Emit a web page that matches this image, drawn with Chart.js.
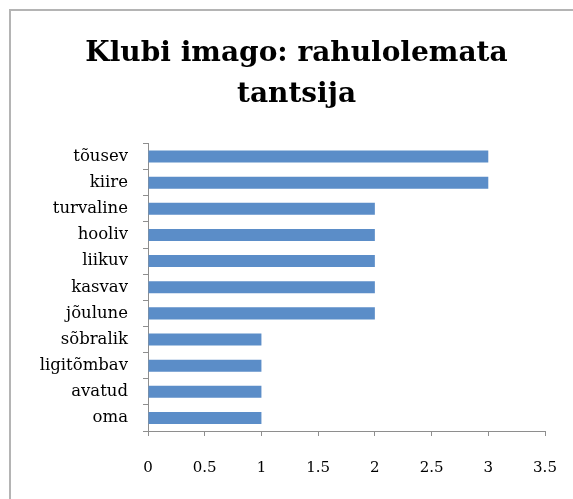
<!DOCTYPE html>
<html>
<head>
<meta charset="utf-8">
<script src="https://cdn.jsdelivr.net/npm/chart.js@4/dist/chart.umd.min.js"></script>
<style>
  html, body { margin: 0; padding: 0; background: #ffffff; overflow: hidden; }
  #frame { position: absolute; left: 9px; top: 9px; width: 640px; height: 560px; border: 2px solid #b4b4b4; box-sizing: border-box; }
  #wrap { position: absolute; left: 0; top: 0; width: 573px; height: 499px; }
</style>
</head>
<body>
<div id="frame"></div>
<div id="wrap"><canvas id="c" width="573" height="499"></canvas></div>
<script>
const titleLines = ['Klubi imago: rahulolemata', 'tantsija'];
const categories = ['tõusev', 'kiire', 'turvaline', 'hooliv', 'liikuv', 'kasvav', 'jõulune', 'sõbralik', 'ligitõmbav', 'avatud', 'oma'];
const values = [3, 3, 2, 2, 2, 2, 2, 1, 1, 1, 1];
const xTickLabels = ['0', '0.5', '1', '1.5', '2', '2.5', '3', '3.5'];

const serif = "'DejaVu Serif', 'Liberation Serif', serif";
const axisColor = '#8e8e8e';

new Chart(document.getElementById('c'), {
  type: 'bar',
  data: {
    labels: categories,
    datasets: [{
      data: values,
      backgroundColor: '#5b8dc8',
      borderWidth: 0,
      categoryPercentage: 1,
      barPercentage: 0.46
    }]
  },
  options: {
    indexAxis: 'y',
    responsive: false,
    animation: false,
    layout: { padding: { left: 20, right: 0, top: 0, bottom: 0 } },
    plugins: {
      legend: { display: false },
      tooltip: { enabled: false },
      title: {
        display: true,
        text: titleLines,
        color: '#000000',
        font: { family: serif, size: 28, weight: 'bold', lineHeight: 1.464 },
        padding: { top: 33.5, bottom: 28 }
      }
    },
    scales: {
      x: {
        min: 0, max: 3.5,
        ticks: {
          stepSize: 0.5,
          color: '#000000',
          font: { family: serif, size: 15 },
          padding: 23,
          maxRotation: 0,
          callback: (v, i) => xTickLabels[i]
        },
        grid: { drawOnChartArea: false, drawTicks: true, tickLength: 5, color: axisColor },
        border: { color: axisColor, width: 1 },
        afterFit: (s) => { s.height = 68; s.paddingLeft = 0; s.paddingRight = 0; }
      },
      y: {
        ticks: {
          color: '#000000',
          font: { family: serif, size: 16.5 },
          padding: 15
        },
        grid: { drawOnChartArea: false, drawTicks: true, tickLength: 5, color: axisColor, offset: true },
        border: { color: axisColor, width: 1 },
        afterFit: (s) => { s.width = 128; s.paddingTop = 0; s.paddingBottom = 0; }
      },
      y2: {
        position: 'right',
        display: true,
        ticks: { display: false },
        grid: { display: false, drawTicks: false },
        border: { display: false },
        afterFit: (s) => { s.width = 28; s.paddingTop = 0; s.paddingBottom = 0; }
      }
    }
  }
});
</script>
</body>
</html>
